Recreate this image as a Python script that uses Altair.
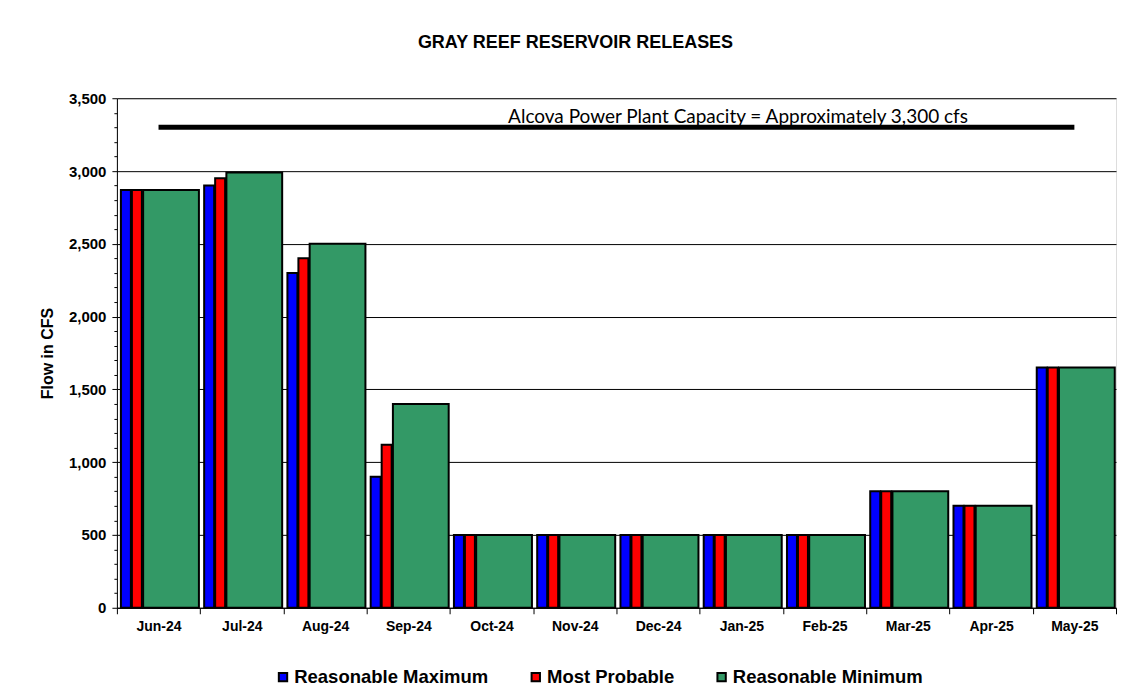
import altair as alt
import pandas as pd

months = ["Jun-24", "Jul-24", "Aug-24", "Sep-24", "Oct-24", "Nov-24",
          "Dec-24", "Jan-25", "Feb-25", "Mar-25", "Apr-25", "May-25"]
series = ["Reasonable Maximum", "Most Probable", "Reasonable Minimum"]
reasonable_max = [2870, 2900, 2300, 900, 500, 500, 500, 500, 500, 800, 700, 1650]
most_probable = [2870, 2950, 2400, 1120, 500, 500, 500, 500, 500, 800, 700, 1650]
reasonable_min = [2870, 2990, 2500, 1400, 500, 500, 500, 500, 500, 800, 700, 1650]
colors = ["#0000FF", "#FF0000", "#339966"]
capacity = 3300
capacity_label = "Alcova Power Plant Capacity = Approximately 3,300 cfs"

rows = []
for i, m in enumerate(months):
    for s, vals in zip(series, [reasonable_max, most_probable, reasonable_min]):
        rows.append({"idx": i, "month": m, "series": s, "value": vals[i]})
df = pd.DataFrame(rows)

x_scale = alt.Scale(domain=[0, 12], nice=False, zero=False)
y_scale = alt.Scale(domain=[0, 3500], nice=False)

month_arr = "[" + ",".join("'" + m + "'" for m in months) + "]"

x_axis = alt.Axis(
    values=list(range(0, 13)),
    labelExpr=month_arr + "[datum.value] || ''",
    labelOffset=41.67, labelFlush=False, labelOverlap=False,
    grid=False, tickSize=6, tickColor="black", domainColor="black",
    labelFont="Liberation Sans", labelFontWeight="bold", labelFontSize=14,
    labelColor="black", labelPadding=6, title=None,
)

is_major = "datum.value % 500 === 0"
y_axis = alt.Axis(
    values=list(range(0, 3501, 100)),
    labelExpr=is_major + " ? format(datum.value, ',') : ''",
    labelOverlap=False, labelFlush=False,
    gridOpacity={"condition": {"test": is_major, "value": 1}, "value": 0},
    tickSize={"condition": {"test": is_major, "value": 5}, "value": 3},
    gridColor="black", gridWidth=1, tickColor="black", domainColor="black",
    labelFont="Liberation Sans", labelFontWeight="bold", labelFontSize=15,
    labelColor="black", labelPadding=6,
    title="Flow in CFS", titleFont="Liberation Sans", titleFontWeight="bold",
    titleFontSize=16, titleColor="black", titlePadding=13,
)

offsets_start = "datum.series === 'Reasonable Maximum' ? 0.048 : (datum.series === 'Most Probable' ? 0.18 : 0.315)"
offsets_end = "datum.series === 'Reasonable Maximum' ? 0.168 : (datum.series === 'Most Probable' ? 0.30 : 0.985)"

bars = alt.Chart(df).transform_calculate(
    x0="datum.idx + (" + offsets_start + ")",
    x1="datum.idx + (" + offsets_end + ")",
).mark_bar(stroke="black", strokeWidth=2, strokeJoin="miter").encode(
    x=alt.X("x0:Q", scale=x_scale, axis=x_axis),
    x2="x1:Q",
    y=alt.Y("value:Q", scale=y_scale, axis=y_axis),
    y2=alt.datum(0),
    color=alt.Color(
        "series:N",
        scale=alt.Scale(domain=series, range=colors),
        legend=alt.Legend(
            title=None, orient="none", direction="horizontal",
            legendX=157, legendY=570, columns=3, columnPadding=38,
            symbolType="square", symbolSize=70, symbolStrokeColor="black",
            symbolStrokeWidth=2, symbolOpacity=1,
            labelFont="Liberation Sans", labelFontWeight="bold",
            labelFontSize=18.5, labelColor="black", labelOffset=2,
            labelLimit=400,
        ),
    ),
)

cap_df = pd.DataFrame({"start": [0.5], "end": [11.5], "cap": [capacity],
                       "mid": [7.46], "label": [capacity_label]})

cap_line = alt.Chart(cap_df).mark_rule(color="black", strokeWidth=5).encode(
    x=alt.X("start:Q", scale=x_scale, axis=x_axis), x2="end:Q",
    y=alt.Y("cap:Q", scale=y_scale, axis=y_axis),
)

cap_text = alt.Chart(cap_df).mark_text(
    font="Lato", fontSize=19, color="black", baseline="alphabetic", dy=-4
).encode(
    x=alt.X("mid:Q", scale=x_scale, axis=x_axis),
    y=alt.Y("cap:Q", scale=y_scale, axis=y_axis),
    text="label:N",
)

chart = alt.layer(bars, cap_line, cap_text).properties(
    width=1000, height=510,
    autosize=alt.AutoSizeParams(type="none"),
    padding={"left": 109, "top": 90, "right": 10, "bottom": 78},
    title=alt.TitleParams(
        "GRAY REEF RESERVOIR RELEASES", font="Liberation Sans",
        fontWeight="bold", fontSize=18, color="black", anchor="middle",
        dx=-41, offset=39,
    ),
).configure_view(stroke=None).configure(background="white")

chart.save("out.html", embed_options={"renderer": "svg", "actions": False})
